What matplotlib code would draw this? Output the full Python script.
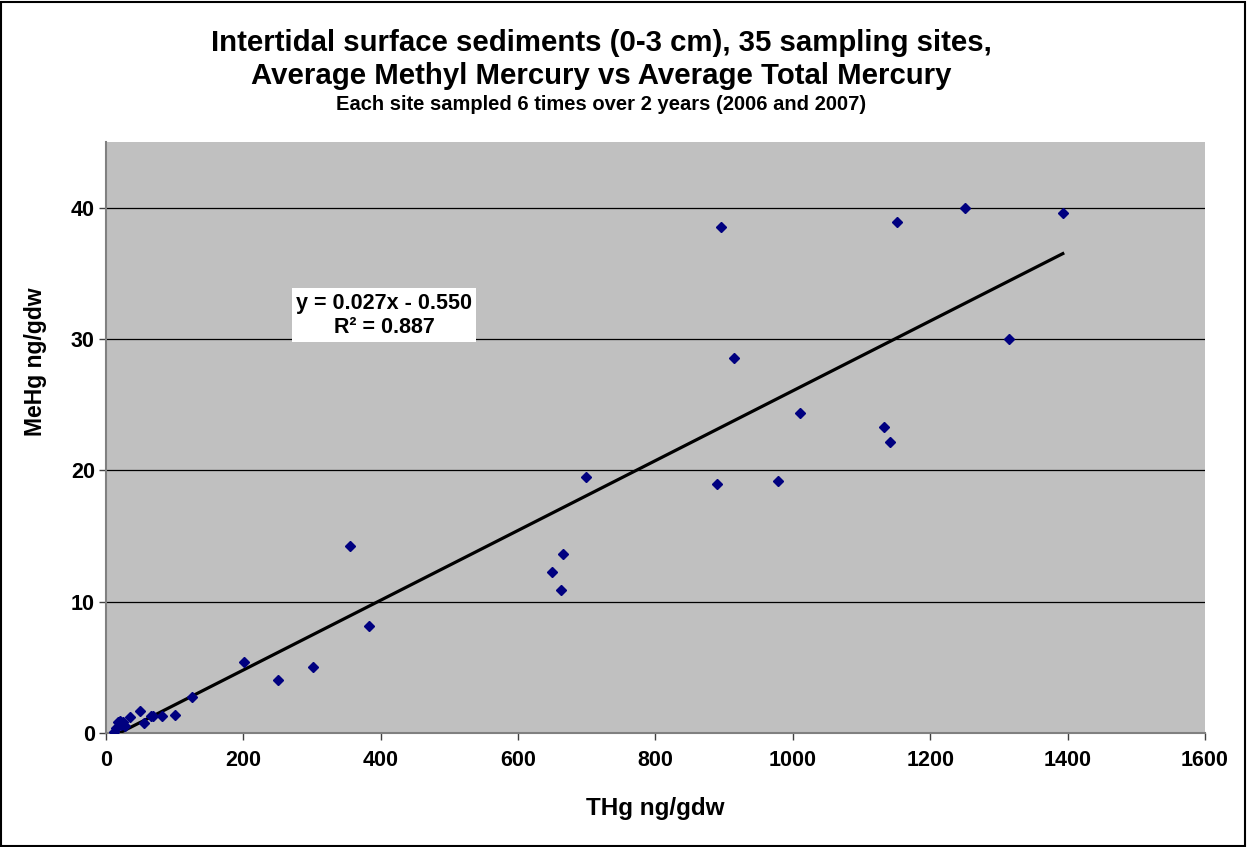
import numpy as np
import matplotlib
matplotlib.use("Agg")
import matplotlib.pyplot as plt
from matplotlib.patches import Rectangle

plt.rcParams['font.family'] = ['Liberation Sans', 'DejaVu Sans']
plt.rcParams['font.weight'] = 'bold'

# moyennes par site : THg (ng/gdw) et MeHg (ng/gdw)
thg = [11, 15, 18, 20, 22, 25, 27, 35, 50, 55, 66, 69, 82, 101, 125,
       201, 251, 302, 355, 383,
       650, 662, 665, 699, 889, 895, 915, 978, 1010,
       1132, 1142, 1152, 1251, 1314, 1393]
mehg = [0.05, 0.4, 0.85, 0.95, 0.6, 0.8, 0.55, 1.19, 1.68, 0.74, 1.3, 1.3, 1.29, 1.37, 2.77,
        5.38, 4.04, 5.0, 14.2, 8.17,
        12.26, 10.87, 13.66, 19.52, 18.96, 38.56, 28.58, 19.22, 24.35,
        23.28, 22.16, 38.9, 40.0, 29.98, 39.6]

x_ticks = [0, 200, 400, 600, 800, 1000, 1200, 1400, 1600]
y_ticks = [0, 10, 20, 30, 40]

fig = plt.figure(figsize=(12.47, 8.47), dpi=100)
ax = fig.add_axes([0.085, 0.1346, 0.8813, 0.6978])
ax.set_facecolor("#C0C0C0")

# droite de regression lineaire
a, b = np.polyfit(thg, mehg, 1)
xs = np.array([min(thg), max(thg)])
ax.plot(xs, a * xs + b, color="black", lw=2.3, zorder=3)
ax.plot(thg, mehg, linestyle="none", marker="D", markersize=5.3,
        color="#000080", zorder=4)

ax.set_xlim(0, 1600)
ax.set_ylim(0, 45)
ax.set_xticks(x_ticks)
ax.set_yticks(y_ticks)
ax.tick_params(direction="out", length=5, width=1, color="#404040",
               labelsize=15.5)
ax.tick_params(axis="x", pad=7)
ax.tick_params(axis="y", pad=3)
for lab in ax.get_xticklabels() + ax.get_yticklabels():
    lab.set_fontweight("bold")
ax.yaxis.grid(True, color="black", lw=0.9)
ax.set_axisbelow(True)
for s in ["top", "right"]:
    ax.spines[s].set_visible(False)
for s in ["left", "bottom"]:
    ax.spines[s].set_color("#808080")
    ax.spines[s].set_linewidth(1.5)

# titres des axes
fig.text(0.5253, 0.046, "THg ng/gdw", ha="center", va="center",
         fontsize=17.5, fontweight="bold")
fig.text(0.0281, 0.5726, "MeHg ng/gdw", ha="center", va="center",
         rotation=90, fontsize=16.5, fontweight="bold")

# equation dans un encadre blanc
ax.text(0.253, 0.707, "y = 0.027x - 0.550\nR² = 0.887", transform=ax.transAxes,
        ha="center", va="center", fontsize=15.5, fontweight="bold",
        linespacing=1.2,
        bbox=dict(facecolor="white", edgecolor="none", pad=3))

fig.text(0.482, 0.949, "Intertidal surface sediments (0-3 cm), 35 sampling sites,",
         ha="center", va="center", fontsize=21.2, fontweight="bold")
fig.text(0.482, 0.910, "Average Methyl Mercury vs Average Total Mercury",
         ha="center", va="center", fontsize=21.2, fontweight="bold")
fig.text(0.482, 0.877, "Each site sampled 6 times over 2 years (2006 and 2007)",
         ha="center", va="center", fontsize=14.5, fontweight="bold")

fig.patches.append(Rectangle((0.001, 0.001), 0.997, 0.997, transform=fig.transFigure,
                             fill=False, edgecolor="black", lw=1.5))

fig.savefig("out.png", dpi=100)
